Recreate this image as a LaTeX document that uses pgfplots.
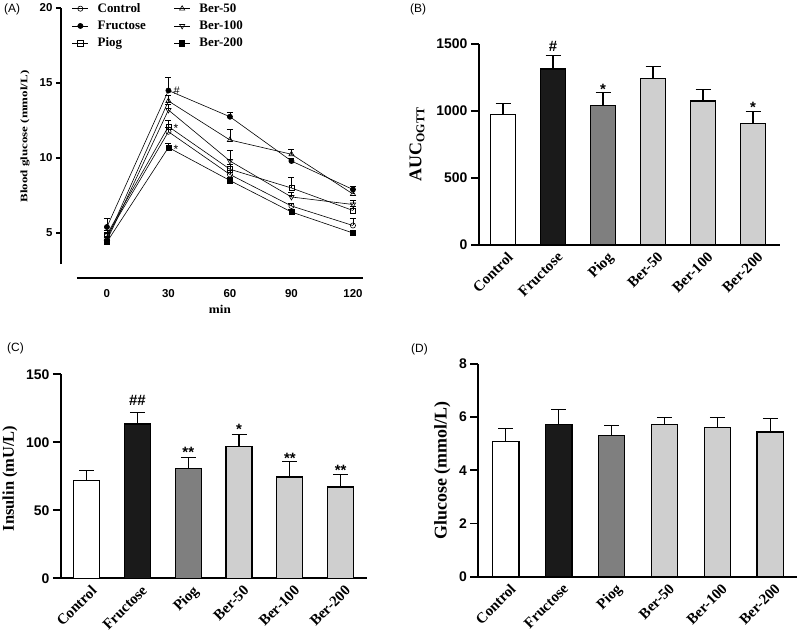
\documentclass[border=0pt]{standalone}
\usepackage{pgfplots}
\usepackage{pgfplotstable}
\pgfplotsset{compat=1.18}
\usepackage{fontspec}
\setmainfont{Liberation Serif}
\newfontfamily\arial{Liberation Sans}

\definecolor{fruc}{HTML}{1A1A1A}
\definecolor{piog}{HTML}{7F7F7F}
\definecolor{ber}{HTML}{CFCFCF}

\pgfplotstableread{
t   c    ce   f     fe   p    pe   b50   b50e  b100 b100e b200 b200e
0   4.8  0.2  5.4   0.6  4.9  0.3  4.6   0.2   4.5  0.2   4.4  0.1
30  11.75 0.3 14.5  0.9  12.1 0.4  13.8  0.4   13.2 0.4   10.7 0.3
60  8.9  0.3  12.75 0.3  9.25 0.3  11.2  0.7   9.8  0.7   8.5  0.2
90  6.8  0.2  9.8   0.2  8.0  0.7  10.25 0.3   7.4  0.3   6.4  0.2
120 5.5  0.5  7.9   0.2  6.5  0.3  7.6   0.3   6.9  0.3   5.0  0.1
}\ogtt

\tikzset{ann/.style={font=\arial\bfseries\fontsize{15}{15}\selectfont, inner sep=0pt, anchor=base}}

\pgfplotsset{
 barax/.style={scale only axis, axis x line=bottom, axis y line=left,
   axis line style={line width=1.8bp,-}, ymin=0,
   xtick={0,1,2,3,4,5},
   xticklabels={Control,Fructose,Piog,Ber-50,Ber-100,Ber-200},
   xtick style={draw=none},
   x tick label style={rotate=45, anchor=north east, font=\fontsize{15}{15}\bfseries\selectfont, inner sep=1bp, xshift=5bp},
   y tick label style={font=\arial\bfseries\fontsize{14}{14}\selectfont},
   ytick style={line width=1.8bp, black},
   tick align=outside, major tick length=8bp,
   /pgf/number format/assume math mode=true,
   /pgf/number format/1000 sep={},
   clip=false},
 bars/.style={ybar, bar shift=0pt, bar width=0.5, draw=black, line width=1.2bp,
   error bars/y dir=plus, error bars/y explicit,
   error bars/error bar style={line width=1.2bp, black},
   error bars/error mark options={rotate=90, mark size=7.5bp, line width=1.2bp, black}},
 lin/.style={black, line width=0.6bp,
   error bars/y dir=plus, error bars/y explicit,
   error bars/error bar style={line width=0.6bp, black},
   error bars/error mark options={rotate=90, mark size=3bp, line width=0.6bp, black}},
}

\begin{document}
\begin{tikzpicture}
\useasboundingbox (0bp,0bp) rectangle (800bp,641bp);

% ---------------- Panel A ----------------
\begin{axis}[at={(61bp,363bp)}, anchor=south west, scale only axis,
  width=302bp, height=270bp,
  xmin=-22.4, xmax=124.9, ymin=2, ymax=20,
  axis x line=bottom, axis y line=left, axis line style={draw=none},
  xtick={0,30,60,90,120}, ytick={5,10,15,20},
  xtick style={draw=none}, ytick style={line width=1.8bp, black},
  tick align=outside, major tick length=5bp,
  tick label style={font=\arial\bfseries\fontsize{11.5}{11.5}\selectfont},
  x tick label style={yshift=-3bp},
  /pgf/number format/assume math mode=true,
  clip=false,
  xlabel={\scalebox{1.1}[1]{min}},
  every axis x label/.style={at={(axis description cs:0.526,-0.115)}, anchor=center, font=\fontsize{12}{12}\bfseries\selectfont},
  ylabel={\scalebox{1.3}[1]{Blood glucose (mmol/L)}},
  every axis y label/.style={at={(axis description cs:-0.119,0.524)}, rotate=90, anchor=center, font=\fontsize{10}{10}\bfseries\selectfont},
  legend columns=2,
  legend cell align=left,
  legend style={at={(axis description cs:0.036,1.025)}, anchor=north west, draw=none, fill=none,
     font=\fontsize{13}{14}\bfseries\selectfont, inner sep=0pt,
     /tikz/every even column/.append style={column sep=26bp}, row sep=3bp},
  legend image code/.code={\draw[mark repeat=2,mark phase=2,#1] plot coordinates {(0bp,0bp) (8bp,0bp) (16bp,0bp)}; \path (23bp,0bp);},
]
\draw[line width=2.2bp] (axis cs:-22.4,2.93) -- (axis cs:-22.4,20);
\draw[line width=2.2bp] (axis cs:-14.6,2) -- (axis cs:124.9,2);

\addplot[lin, mark=o, mark size=2.6bp, mark options={fill=white, solid}] table[x=t, y=c, y error=ce] {\ogtt};
\addlegendentry{Control}
\addplot[lin, mark=triangle, mark size=3bp, mark options={fill=white, solid}] table[x=t, y=b50, y error=b50e] {\ogtt};
\addlegendentry{Ber-50}
\addplot[lin, mark=*, mark size=2.6bp, mark options={fill=black, solid}] table[x=t, y=f, y error=fe] {\ogtt};
\addlegendentry{Fructose}
\addplot[lin, mark=triangle, mark size=3bp, mark options={fill=white, solid, rotate=180}] table[x=t, y=b100, y error=b100e] {\ogtt};
\addlegendentry{Ber-100}
\addplot[lin, mark=square, mark size=2.6bp, mark options={fill=white, solid}] table[x=t, y=p, y error=pe] {\ogtt};
\addlegendentry{Piog}
\addplot[lin, mark=square*, mark size=2.6bp, mark options={fill=black, solid}] table[x=t, y=b200, y error=b200e] {\ogtt};
\addlegendentry{Ber-200}

\node[anchor=west, font=\arial\fontsize{11}{11}\selectfont, inner sep=0pt, xshift=5bp] at (axis cs:30,14.5) {\#};
\node[anchor=west, font=\arial\fontsize{12}{12}\selectfont, inner sep=0pt, xshift=5bp, yshift=-2bp] at (axis cs:30,12.1) {*};
\node[anchor=west, font=\arial\fontsize{12}{12}\selectfont, inner sep=0pt, xshift=5bp, yshift=-2bp] at (axis cs:30,10.7) {*};
\end{axis}

% ---------------- Panel B ----------------
\begin{axis}[barax, at={(479bp,396bp)}, anchor=south west,
  width=301bp, height=201bp, xmin=-0.48, xmax=5.54, ymax=1500,
  ytick={0,500,1000,1500},
  ylabel={AUC\raisebox{-0.35ex}{\fontsize{12}{12}\selectfont OGTT}},
  every axis y label/.style={at={(axis description cs:-0.206,0.5)}, rotate=90, anchor=center, font=\fontsize{18}{18}\bfseries\selectfont},
]
\addplot[bars, fill=white] coordinates {(0,975) +- (0,80)};
\addplot[bars, fill=fruc] coordinates {(1,1313) +- (0,100)};
\addplot[bars, fill=piog] coordinates {(2,1040) +- (0,100)};
\addplot[bars, fill=ber] coordinates {(3,1241) +- (0,90) (4,1075) +- (0,87) (5,908) +- (0,87)};
\node[ann, yshift=4bp] at (axis cs:1,1413) {\#};
\node[ann, yshift=-2bp] at (axis cs:2,1140) {*};
\node[ann, yshift=-1bp] at (axis cs:5,995) {*};
\end{axis}

% ---------------- Panel C ----------------
\begin{axis}[barax, at={(61bp,62.7bp)}, anchor=south west,
  width=306bp, height=204bp, xmin=-0.506, xmax=5.52, ymax=150,
  ytick={0,50,100,150},
  ylabel={Insulin (mU/L)},
  every axis y label/.style={at={(axis description cs:-0.167,0.49)}, rotate=90, anchor=center, font=\fontsize{16.5}{16.5}\bfseries\selectfont},
]
\addplot[bars, bar width=0.51, fill=white] coordinates {(0,72.1) +- (0,7.3)};
\addplot[bars, bar width=0.51, fill=fruc] coordinates {(1,113.5) +- (0,8.5)};
\addplot[bars, bar width=0.51, fill=piog] coordinates {(2,80.9) +- (0,8.1)};
\addplot[bars, bar width=0.51, fill=ber] coordinates {(3,97) +- (0,8.9) (4,74.5) +- (0,11.5) (5,67.1) +- (0,9.1)};
\node[ann, yshift=7bp] at (axis cs:1,122) {\#\#};
\node[ann, yshift=0bp] at (axis cs:2,89) {**};
\node[ann, yshift=0bp] at (axis cs:3,105.9) {*};
\node[ann, yshift=-2bp] at (axis cs:4,86) {**};
\node[ann, yshift=-1bp] at (axis cs:5,76.2) {**};
\end{axis}

% ---------------- Panel D ----------------
\begin{axis}[barax, at={(478.3bp,64.3bp)}, anchor=south west,
  width=318.4bp, height=212.7bp, xmin=-0.52, xmax=5.5, ymax=8,
  ytick={0,2,4,6,8},
  ylabel={Glucose (mmol/L)},
  every axis y label/.style={at={(axis description cs:-0.113,0.5)}, rotate=90, anchor=center, font=\fontsize{18}{18}\bfseries\selectfont},
]
\addplot[bars, fill=white] coordinates {(0,5.1) +- (0,0.46)};
\addplot[bars, fill=fruc] coordinates {(1,5.71) +- (0,0.57)};
\addplot[bars, fill=piog] coordinates {(2,5.31) +- (0,0.38)};
\addplot[bars, fill=ber] coordinates {(3,5.73) +- (0,0.27) (4,5.6) +- (0,0.4) (5,5.44) +- (0,0.5)};
\end{axis}

\node[anchor=north west, inner sep=0pt, font=\arial\fontsize{12}{12}\selectfont] at (4bp,637bp) {(A)};
\node[anchor=north west, inner sep=0pt, font=\arial\fontsize{12}{12}\selectfont] at (410bp,637bp) {(B)};
\node[anchor=north west, inner sep=0pt, font=\arial\fontsize{12}{12}\selectfont] at (7bp,298bp) {(C)};
\node[anchor=north west, inner sep=0pt, font=\arial\fontsize{12}{12}\selectfont] at (411bp,297bp) {(D)};
\end{tikzpicture}
\end{document}
